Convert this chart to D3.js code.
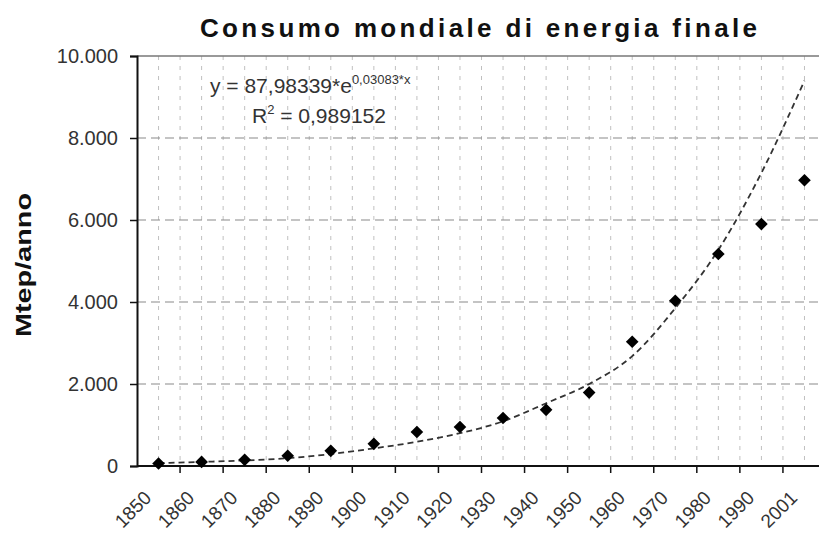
<!DOCTYPE html>
<html>
<head>
<meta charset="utf-8">
<script src="https://cdn.jsdelivr.net/npm/d3@7"></script>
<style>
  html, body { margin: 0; padding: 0; background: #fff; }
  svg { display: block; font-family: "Liberation Sans", Arial, sans-serif; }
</style>
</head>
<body>
<svg id="chart" width="819" height="536"></svg>
<script>
const categories = ["1850","1860","1870","1880","1890","1900","1910","1920","1930","1940","1950","1960","1970","1980","1990","2001"];
const consumption = [60, 100, 150, 250, 370, 540, 830, 950, 1170, 1370, 1790, 3030, 4030, 5170, 5900, 6970];
const trendValues = [70, 100, 135, 190, 290, 430, 590, 800, 1090, 1530, 2000, 2680, 3850, 5270, 7150, 9400];
const yTicks = [0, 2000, 4000, 6000, 8000, 10000];
const yTickLabels = ["0", "2.000", "4.000", "6.000", "8.000", "10.000"];
const titleText = "Consumo mondiale di energia finale";
const yTitle = "Mtep/anno";
const eqMain = "y = 87,98339*e";
const eqExp = "0,03083*x";
const r2Label = "R";
const r2Exp = "2";
const r2Value = " = 0,989152";

const svg = d3.select("#chart");
const mLeft = 137, mRight = 826, mTop = 56, mBottom = 466;

const x = d3.scaleBand().domain(categories).range([mLeft, mRight]).padding(0);
const y = d3.scaleLinear().domain([0, 10000]).range([mBottom, mTop]);
const bw = x.bandwidth();

// vertical gridlines (category boundaries and centers)
const vLines = [];
categories.forEach((c, i) => {
  if (i > 0) vLines.push(x(c));
  vLines.push(x(c) + bw / 2);
});
svg.append("g").selectAll("line").data(vLines).join("line")
  .attr("x1", d => d).attr("x2", d => d)
  .attr("y1", mTop).attr("y2", mBottom)
  .attr("stroke", "#c0c0c0").attr("stroke-width", 1)
  .attr("stroke-dasharray", "4,6");

// horizontal gridlines
svg.append("g").selectAll("line").data(yTicks.filter(v => v > 0 && v < 10000)).join("line")
  .attr("x1", mLeft).attr("x2", mRight)
  .attr("y1", d => y(d)).attr("y2", d => y(d))
  .attr("stroke", "#8a8a8a").attr("stroke-width", 1.2)
  .attr("stroke-dasharray", "9,5");
svg.append("line")
  .attr("x1", mLeft).attr("x2", mRight)
  .attr("y1", y(10000)).attr("y2", y(10000))
  .attr("stroke", "#777").attr("stroke-width", 1.6);

// Y axis
const yAxis = d3.axisLeft(y).tickValues(yTicks).tickSize(7).tickPadding(12)
  .tickFormat((d, i) => yTickLabels[i]);
const gy = svg.append("g").attr("transform", `translate(${mLeft},0)`).call(yAxis);
gy.select(".domain").attr("stroke", "#111").attr("stroke-width", 2);
gy.selectAll(".tick line").attr("stroke", "#111").attr("stroke-width", 1.5);
gy.selectAll(".tick text").attr("font-size", 20).attr("fill", "#333")
  .attr("font-family", "'Liberation Sans', Arial, sans-serif");

// X axis: ticks at category boundaries
const gx = svg.append("g");
gx.append("line").attr("x1", mLeft).attr("x2", mRight).attr("y1", mBottom).attr("y2", mBottom)
  .attr("stroke", "#111").attr("stroke-width", 2);
gx.selectAll("line.tk").data(categories.slice(1).map(c => x(c)).concat([mRight])).join("line")
  .attr("class", "tk")
  .attr("x1", d => d).attr("x2", d => d).attr("y1", mBottom).attr("y2", mBottom + 7)
  .attr("stroke", "#111").attr("stroke-width", 1.5);
gx.selectAll("text").data(categories).join("text")
  .attr("transform", d => `translate(${x(d) + bw / 2 - 6},${mBottom + 33}) rotate(-45)`)
  .attr("text-anchor", "end")
  .attr("font-size", 19).attr("fill", "#333")
  .text(d => d);

// trend line
const line = d3.line()
  .x((d, i) => x(categories[i]) + bw / 2)
  .y(d => y(d))
  .curve(d3.curveMonotoneX);
svg.append("path").datum(trendValues)
  .attr("d", line)
  .attr("fill", "none").attr("stroke", "#333").attr("stroke-width", 1.8)
  .attr("stroke-dasharray", "6,4");

// points (diamonds)
svg.append("g").selectAll("path").data(consumption).join("path")
  .attr("transform", (d, i) => `translate(${x(categories[i]) + bw / 2},${y(d)}) rotate(45)`)
  .attr("d", d3.symbol().type(d3.symbolSquare).size(80))
  .attr("fill", "#000");

// title
svg.append("text")
  .attr("x", 200).attr("y", 37)
  .attr("font-size", 26).attr("font-weight", "bold").attr("fill", "#111")
  .attr("textLength", 557).attr("lengthAdjust", "spacing")
  .text(titleText);

// y title
svg.append("text")
  .attr("transform", `translate(31,265) rotate(-90)`)
  .attr("text-anchor", "middle")
  .attr("font-size", 22).attr("font-weight", "bold").attr("fill", "#111")
  .attr("textLength", 144).attr("lengthAdjust", "spacingAndGlyphs")
  .text(yTitle);

// equation
const eq = svg.append("text").attr("x", 210).attr("y", 93)
  .attr("font-size", 21).attr("fill", "#333");
eq.append("tspan").text(eqMain);
eq.append("tspan").attr("dy", -9).attr("font-size", 13).text(eqExp);

const r2 = svg.append("text").attr("x", 252).attr("y", 123)
  .attr("font-size", 21).attr("fill", "#333");
r2.append("tspan").text(r2Label);
r2.append("tspan").attr("dy", -9).attr("font-size", 13).text(r2Exp);
r2.append("tspan").attr("dy", 9).text(r2Value);
</script>
</body>
</html>
